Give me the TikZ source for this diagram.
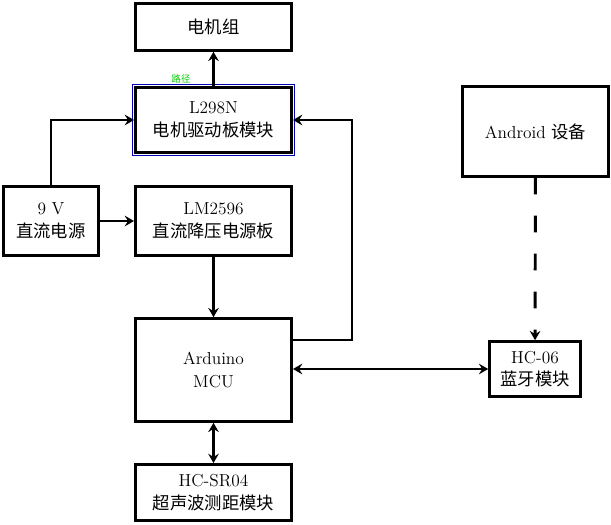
\documentclass[tikz,border=0pt]{standalone}
\usepackage{fontspec}
\newfontfamily\cjk{Noto Sans CJK SC}
\usetikzlibrary{arrows.meta, positioning}

\begin{document}
\begin{tikzpicture}[
  x=0.75pt, y=-0.75pt,
  font=\fontsize{13}{17}\selectfont,
  block/.style={rectangle, draw=black, line width=2.2pt, align=center, inner sep=0pt},
  arr/.style={-{Stealth[length=7pt, width=8pt, inset=2.5pt]}, line width=2.2pt},
  darr/.style={{Stealth[length=7pt, width=8pt, inset=2.5pt]}-{Stealth[length=7pt, width=8pt, inset=2.5pt]}, line width=2.2pt}
]
\useasboundingbox (0,0) rectangle (611,525);
% blocks
\node[block, minimum width=117pt, minimum height=35pt] (motor) at (213.5,27) {\cjk 电机组};
\node[block, minimum width=117pt, minimum height=49pt] (l298) at (213.5,120) {L298N\\{\cjk 电机驱动板模块}};
\node[block, minimum width=71pt, minimum height=52pt] (power9v) at (51,221) {9 V\\{\cjk 直流电源}};
\node[block, minimum width=117pt, minimum height=52pt] (lm2596) at (213.5,221) {LM2596\\{\cjk 直流降压电源板}};
\node[block, minimum width=117pt, minimum height=77pt] (arduino) at (213.5,370) {Arduino\\MCU};
\node[block, minimum width=117pt, minimum height=42pt] (hcsr04) at (213.5,492.5) {HC-SR04\\{\cjk 超声波测距模块}};
\node[block, minimum width=110pt, minimum height=67pt] (android) at (535.5,131.5) {Android {\cjk 设备}};
\node[block, minimum width=68pt, minimum height=41pt] (hc06) at (535,369) {HC-06\\{\cjk 蓝牙模块}};
% selection marks
\draw[blue!70!black, line width=0.5pt] ([xshift=-1.2pt, yshift=1.2pt]l298.north west) rectangle ([xshift=1.2pt, yshift=-1.2pt]l298.south east);
\node[text=green!80!black, font=\cjk\fontsize{7}{8}\selectfont, inner sep=0pt] (pathlbl) at (181,79) {路径};
% connectors
\draw[arr] (l298) -- (motor);
\draw[arr] (power9v.north) |- (l298.west);
\draw[arr] (power9v) -- (lm2596);
\draw[arr] (lm2596.south) -- (arduino.north);
\coordinate (back) at (352,340);
\draw[arr] (arduino.east |- back) -| (back) |- (l298.east);
\draw[darr] (arduino.east |- hc06.west) -- (hc06.west);
\draw[darr] (arduino) -- (hcsr04);
\draw[arr, dash pattern=on 12.5pt off 16pt] (android) -- (hc06);
\end{tikzpicture}
\end{document}
